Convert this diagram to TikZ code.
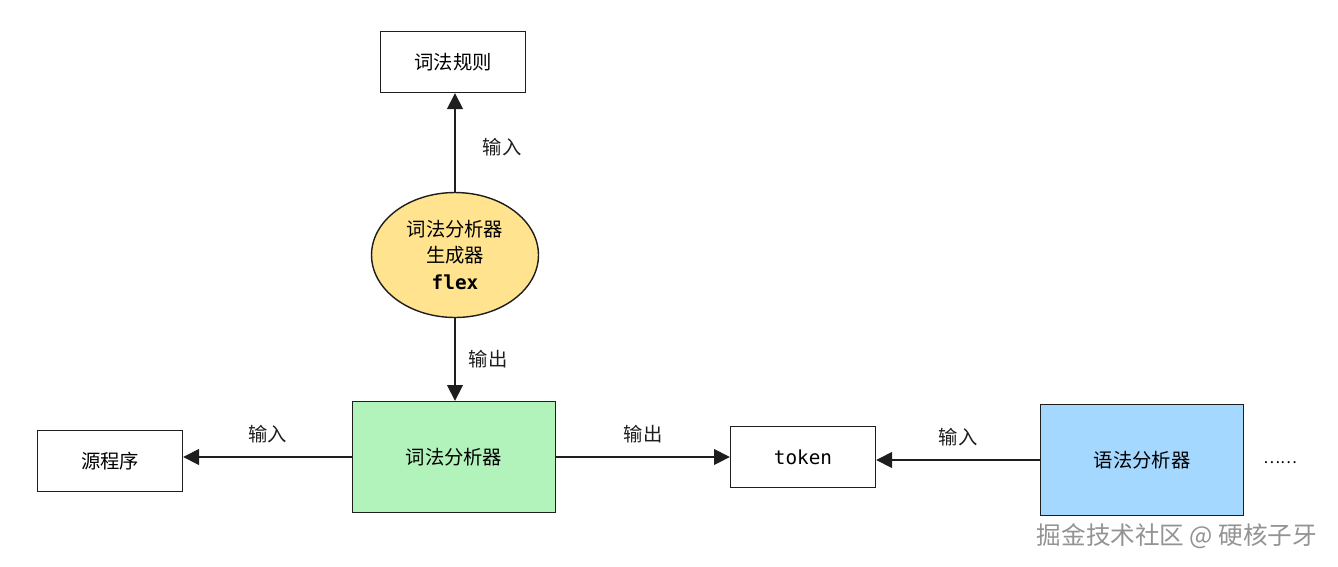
\documentclass[tikz,border=0pt]{standalone}
\usepackage{fontspec}
\usepackage{tikz}
\usepackage{xcolor}
\usetikzlibrary{arrows.meta,shapes.geometric}
\setmainfont{Noto Sans CJK SC}
\setmonofont{DejaVu Sans Mono}
\definecolor{inkline}{HTML}{1E1E1E}
\definecolor{flexyellow}{HTML}{FFE38F}
\definecolor{lexgreen}{HTML}{B2F2BB}
\definecolor{parseblue}{HTML}{A5D8FF}
\tikzset{
    plain-box/.style = {draw=inkline, fill=white, line width=0.8pt, rectangle, minimum width=2.9cm, minimum height=1.22cm, font=\fontsize{11pt}{13pt}\selectfont},
    big-box/.style = {plain-box, minimum width=4.06cm, minimum height=2.22cm},
    flow-arrow/.style = {draw=inkline, line width=0.9pt, -{Triangle[length=9pt,width=9pt]}},
    arrow-label/.style = {font=\fontsize{11pt}{13pt}\selectfont, text=inkline},
}

\begin{document}
\begin{tikzpicture}[x=0.02cm,y=-0.02cm]
\useasboundingbox (0,0) rectangle (1338,566);
\node [plain-box] (rules) at (453,62) {词法规则};
\node [draw=inkline, fill=flexyellow, line width=0.8pt, ellipse, minimum width=3.34cm, minimum height=2.5cm, align=center, font=\fontsize{11pt}{15pt}\selectfont] (gen) at (455,255) {词法分析器\\生成器\\\texttt{\bfseries flex}};
\node [big-box, fill=lexgreen] (lexer) at (454,457) {词法分析器};
\node [plain-box] (source) at (110,461) {源程序};
\node [plain-box] (token) at (803,457) {\texttt{token}};
\node [big-box, fill=parseblue] (parser) at (1142,460) {语法分析器};
\node [font=\small] (more) at (1280,463) {……};
% arrows
\draw [flow-arrow] (gen.north) -- (gen.north |- rules.south) node [arrow-label, pos=0.45, right=12pt] {输入};
\draw [flow-arrow] (gen.south) -- (gen.south |- lexer.north) node [arrow-label, midway, right=4pt] {输出};
\draw [flow-arrow] (lexer.west) -- (lexer.west -| source.east) node [arrow-label, midway, above=4pt] {输入};
\draw [flow-arrow] (lexer.east) -- (lexer.east -| token.west) node [arrow-label, midway, above=4pt] {输出};
\draw [flow-arrow] (parser.west) -- (parser.west -| token.east) node [arrow-label, midway, above=4pt] {输入};
\node [text=gray!85, font=\fontsize{14pt}{16pt}\selectfont] (mark) at (1177,536) {掘金技术社区 @ 硬核子牙};
\end{tikzpicture}
\end{document}
